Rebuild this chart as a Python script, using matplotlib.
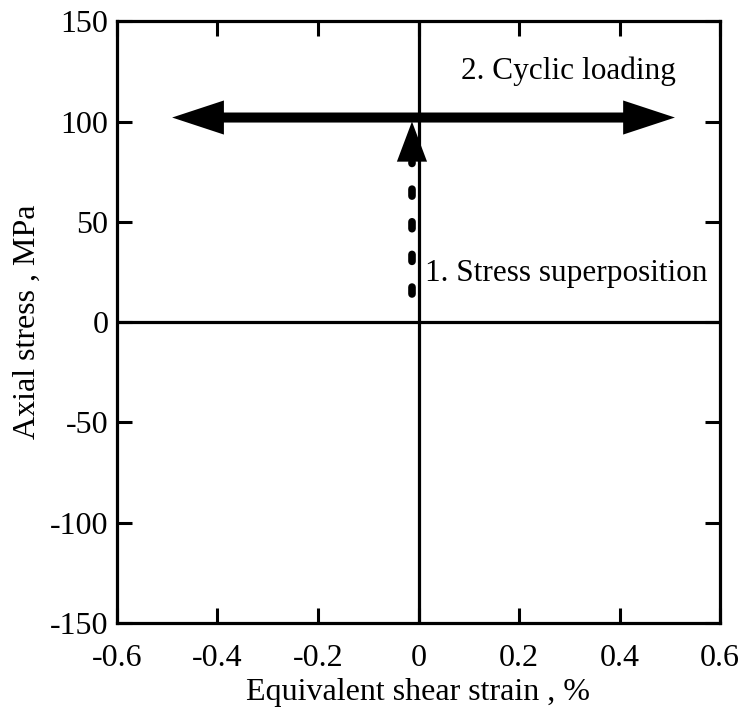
import matplotlib
matplotlib.use("Agg")
import matplotlib.pyplot as plt
from matplotlib.patches import FancyArrow

plt.rcParams['font.family'] = ['Liberation Serif', 'DejaVu Serif']
plt.rcParams['axes.unicode_minus'] = False
plt.rcParams['lines.scale_dashes'] = False

# Axis ranges and ticks
x_ticks = [-0.6, -0.4, -0.2, 0, 0.2, 0.4, 0.6]
x_tick_labels = ['-0.6', '-0.4', '-0.2', '0', '0.2', '0.4', '0.6']
y_ticks = [-150, -100, -50, 0, 50, 100, 150]
y_tick_labels = ['-150', '-100', '-50', '0', '50', '100', '150']

# Loading path: step 1 (stress superposition), step 2 (cyclic loading)
step1_x = [-0.013, -0.013]
step1_y = [12, 100]
step2_x = [-0.49, 0.51]
step2_y = [102, 102]

fig = plt.figure(figsize=(7.44, 7.08), dpi=100)
ax = fig.add_axes([0.157, 0.120, 0.811, 0.850])
ax.set_xlim(-0.6, 0.6)
ax.set_ylim(-150, 150)

for s in ax.spines.values():
    s.set_linewidth(2.3)

ax.set_xticks(x_ticks)
ax.set_xticklabels(x_tick_labels)
ax.set_yticks(y_ticks)
ax.set_yticklabels(y_tick_labels)
ax.tick_params(axis='both', direction='in', length=11, width=2.2,
               labelsize=23, top=True, right=True)
ax.tick_params(axis='x', pad=15)
ax.tick_params(axis='y', pad=6)

# Zero axes
ax.axhline(0, color='black', lw=2.3, zorder=1)
ax.axvline(0, color='black', lw=2.3, zorder=1)

# Step 2: horizontal double-headed arrow
y2 = step2_y[0]
head_len_x = 0.103
for tip in step2_x:
    ax.add_patch(FancyArrow(0, y2, tip, 0, width=5.0, head_width=17.0,
                            head_length=head_len_x, length_includes_head=True,
                            color='black', lw=0, zorder=3))

# Step 1: dashed vertical arrow
x1 = step1_x[0]
head_len_y = 20
ax.plot([x1, x1], [step1_y[0] + 2, step1_y[1] - head_len_y], color='black',
        lw=5.5, dashes=(5.0, 18.5), dash_capstyle='round', zorder=3)
ax.add_patch(FancyArrow(x1, step1_y[1] - head_len_y, 0, head_len_y, width=0.0,
                        head_width=0.06, head_length=head_len_y,
                        length_includes_head=True, color='black', lw=0, zorder=3))

ax.text(0.085, 125, '2. Cyclic loading', fontsize=22.5, va='center', ha='left')
ax.text(0.013, 24, '1. Stress superposition', fontsize=22.5, va='center', ha='left')

ax.set_xlabel('Equivalent shear strain , %', fontsize=23, labelpad=3.5)
ax.set_ylabel('Axial stress , MPa', fontsize=23, labelpad=6)

fig.savefig('out.png', dpi=100)
